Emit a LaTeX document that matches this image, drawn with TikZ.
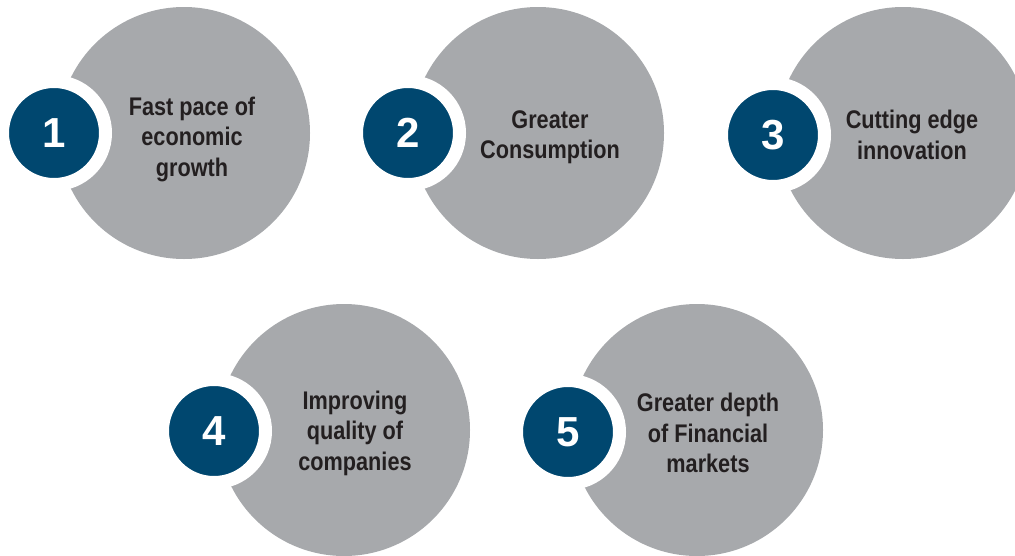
\documentclass[tikz,border=0pt]{standalone}
\usepackage{fontspec}
\setmainfont{Liberation Sans}[FakeStretch=0.85]
\newfontfamily\numfont{Liberation Sans}
\definecolor{discgray}{HTML}{A7A9AC}
\definecolor{discblue}{HTML}{00476F}
\definecolor{txtdark}{HTML}{231F20}
\begin{document}
\begin{tikzpicture}[x=1pt,y=-1pt,
  bigdisc/.style={circle,fill=discgray,minimum size=252pt,inner sep=0pt},
  numdisc/.style={circle,fill=discblue,draw=white,line width=13pt,minimum size=103pt,inner sep=0pt,
    text=white,font=\numfont\bfseries\fontsize{42}{42}\selectfont},
  label/.style={align=center,text=txtdark,font=\bfseries\fontsize{25.5}{30.5}\selectfont,inner sep=0pt}]
\useasboundingbox (0,0) rectangle (1015,555);
\clip (0,0) rectangle (1015,555);
\node[bigdisc] (g1) at (184,133) {};
\node[bigdisc] (g2) at (538,133) {};
\node[bigdisc] (g3) at (903,133) {};
\node[bigdisc] (g4) at (344,430) {};
\node[bigdisc] (g5) at (697,430) {};
\node[numdisc] (n1) at (54,133) {1};
\node[numdisc] (n2) at (408,133) {2};
\node[numdisc] (n3) at (773,135) {3};
\node[numdisc] (n4) at (214,431) {4};
\node[numdisc] (n5) at (568,432) {5};
\node[label] (t1) at (192,139) {Fast pace of\\economic\\growth};
\node[label] (t2) at (550,137) {Greater\\Consumption};
\node[label] (t3) at (912,135) {Cutting edge\\innovation};
\node[label] (t4) at (355,433) {Improving\\quality of\\companies};
\node[label] (t5) at (708,433) {Greater depth\\of Financial\\markets};
\end{tikzpicture}
\end{document}
